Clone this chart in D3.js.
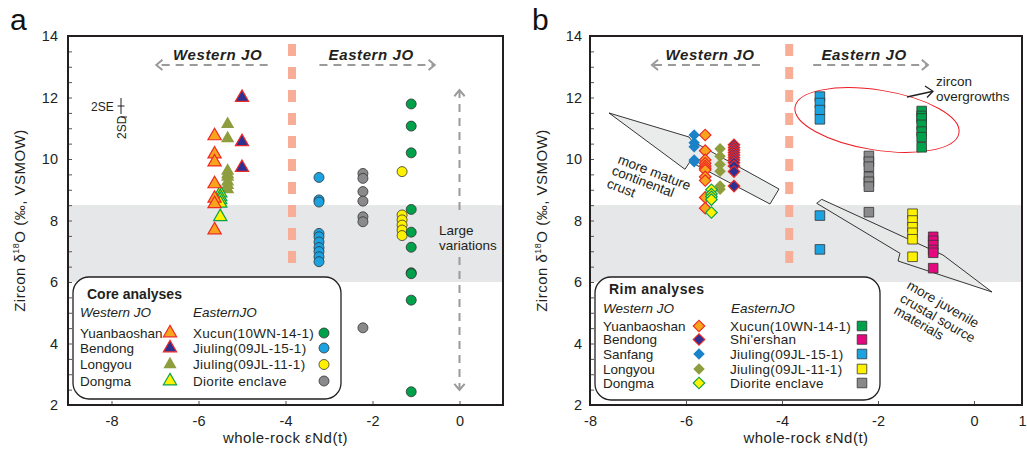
<!DOCTYPE html>
<html>
<head>
<meta charset="utf-8">
<script src="https://cdn.jsdelivr.net/npm/d3@7"></script>
<style>
  body { margin: 0; background: #fff; }
  svg { font-family: "Liberation Sans", Arial, sans-serif; }
</style>
</head>
<body>
<svg id="chart" width="1027" height="455"></svg>
<script>
// ---- data: x = whole-rock eNd(t) of the sample, values = zircon d18O ----
// panel a, core analyses
const coreYuanbaoshanNd = -5.63, coreYuanbaoshan = [10.75, 10.16, 9.9, 9.19, 8.72, 8.54, 7.69];
const coreBendongNd = -5.0, coreBendong = [12.0, 10.56, 9.72];
const coreLongyouNd = -5.33, coreLongyou = [11.13, 10.67, 9.61, 9.5, 9.42, 9.26, 9.15, 9.01];
const coreDongmaNd = -5.5, coreDongma = [8.89, 8.77, 8.67, 8.56, 8.12];
const coreXucunNd = -1.11, coreXucun = [11.79, 11.07, 10.2, 8.36, 7.62, 7.13, 6.3, 6.27, 5.41, 2.43];
const coreJiuling15Nd = -3.23, coreJiuling15 = [9.4, 8.67, 8.6, 7.58, 7.47, 7.3, 7.12, 6.99, 6.82, 6.66];
const coreJiuling11Nd = -1.32, coreJiuling11 = [9.59, 8.18, 8.02, 7.85, 7.69, 7.51];
const coreDioriteNd = -2.22, coreDiorite = [9.53, 9.37, 8.94, 8.63, 8.12, 7.96, 4.51];

// panel b, rim analyses
const rimSanfangNd = -5.83, rimSanfang = [10.78, 10.53, 10.4, 9.97, 9.91];
const rimYuanbaoshanNd = -5.6, rimYuanbaoshan = [10.78, 10.27, 9.97, 9.86, 9.77, 9.7, 9.64, 9.42, 9.3, 8.75, 8.4];
const rimLongyouNd = -5.29, rimLongyou = [10.33, 10.09, 9.82, 9.6, 9.12, 9.02];
const rimBendongNd = -5.0, rimBendong = [10.46, 10.37, 10.29, 10.21, 10.13, 10.05, 9.97, 9.88, 9.77, 9.59, 9.12];
const rimDongmaNd = -5.47, rimDongma = [9.0, 8.86, 8.77, 8.68, 8.26];
const rimXucunNd = -1.09, rimXucun = [11.56, 11.4, 11.32, 11.11, 10.89, 10.71, 10.38];
const rimShiershanNd = -0.85, rimShiershan = [7.47, 7.34, 7.2, 7.04, 6.95, 6.45];
const rimJiuling15Nd = -3.21, rimJiuling15 = [12.03, 11.82, 11.59, 11.29, 8.16, 7.06];
const rimJiuling11Nd = -1.28, rimJiuling11 = [8.22, 8.0, 7.78, 7.6, 7.39, 6.82];
const rimDioriteNd = -2.19, rimDiorite = [10.1, 9.91, 9.75, 9.42, 9.26, 9.1, 8.27];

// axes / guides
const yTicks = d3.range(2, 14.001, 0.5);
const xTicksA = [-8, -6, -4, -2, 0];
const xTicksB = [-8, -6, -4, -2, 0, 1];
const mantleBand = [6, 8.5];      // grey band of mantle-like d18O
const divideNd = -3.85;           // pink dashed divide between western / eastern JO

const westernNames = ["Yuanbaoshan", "Bendong", "Longyou", "Dongma"];
const easternNames = ["Xucun(10WN-14-1)", "Jiuling(09JL-15-1)", "Jiuling(09JL-11-1)", "Diorite enclave"];
const westernRimNames = ["Yuanbaoshan", "Bendong", "Sanfang", "Longyou", "Dongma"];
const easternRimNames = ["Xucun(10WN-14-1)", "Shi'ershan", "Jiuling(09JL-15-1)", "Jiuling(09JL-11-1)", "Diorite enclave"];

// colours
const cOrange = "#f8a51d", cRed = "#ee2a24", cNavy = "#2e3192", cOlive = "#8e9d3e",
      cYellow = "#fff200", cGreenEdge = "#0aa14b", cGreen = "#00a14b", cBlue = "#1ba3e1",
      cGrey = "#8a8a8c", cPink = "#e4097f", cSanfang = "#1a82c9", cDark = "#333";

const svg = d3.select("#chart");
svg.append("rect").attr("width", 1027).attr("height", 455).attr("fill", "#fff");

const y = d3.scaleLinear().domain([2, 14]).range([405, 36]);
const xA = d3.scaleLinear().domain([-9, 1]).range([68, 503]);
const xB = d3.scaleLinear().domain([-8, 1]).range([590, 1022]);

function sym(type, size) { return d3.symbol().type(type).size(size)(); }

function series(nd, vals, shape, fill, stroke, sw) {
  return { nd: nd, vals: vals, shape: shape, fill: fill, stroke: stroke, sw: sw };
}

const coreSeries = [
  series(coreLongyouNd, coreLongyou, "tri", cOlive, "none", 0),
  series(coreDongmaNd, coreDongma, "tri", cYellow, cGreenEdge, 1.2),
  series(coreYuanbaoshanNd, coreYuanbaoshan, "tri", cOrange, cRed, 1.2),
  series(coreBendongNd, coreBendong, "tri", cNavy, cRed, 1.2),
  series(coreJiuling15Nd, coreJiuling15, "circ", cBlue, cDark, 0.8),
  series(coreDioriteNd, coreDiorite, "circ", cGrey, cDark, 0.8),
  series(coreJiuling11Nd, coreJiuling11, "circ", cYellow, cDark, 0.8),
  series(coreXucunNd, coreXucun, "circ", cGreen, cDark, 0.8)
];
const rimSeries = [
  series(rimSanfangNd, rimSanfang, "dia", cSanfang, "none", 0),
  series(rimLongyouNd, rimLongyou, "dia", cOlive, "none", 0),
  series(rimYuanbaoshanNd, rimYuanbaoshan, "dia", cOrange, cRed, 1.2),
  series(rimDongmaNd, rimDongma, "dia", cYellow, cGreenEdge, 1.2),
  series(rimBendongNd, rimBendong, "dia", cNavy, cRed, 1.2),
  series(rimJiuling15Nd, rimJiuling15, "sq", cBlue, cDark, 0.8),
  series(rimDioriteNd, rimDiorite, "sq", cGrey, cDark, 0.8),
  series(rimJiuling11Nd, rimJiuling11, "sq", cYellow, cDark, 0.8),
  series(rimShiershanNd, rimShiershan, "sq", cPink, cDark, 0.8),
  series(rimXucunNd, rimXucun, "sq", cGreen, cDark, 0.8)
];

function drawMarker(g, s, px, py) {
  if (s.shape === "circ") {
    g.append("circle").attr("cx", px).attr("cy", py).attr("r", 5)
      .attr("fill", s.fill).attr("stroke", s.stroke).attr("stroke-width", s.sw);
  } else {
    var p = s.shape === "tri" ? sym(d3.symbolTriangle, 76)
          : s.shape === "sq" ? sym(d3.symbolSquare, 92)
          : sym(d3.symbolSquare, 66);
    g.append("path").attr("d", p)
      .attr("transform", "translate(" + px + "," + py + ")" + (s.shape === "dia" ? " rotate(45)" : ""))
      .attr("fill", s.fill).attr("stroke", s.stroke).attr("stroke-width", s.sw);
  }
}

function chevron(g, x0, y0, angle) {
  // open arrow head pointing in direction "angle" (deg) with tip at x0,y0
  var a = angle * Math.PI / 180, L = 8, w = 0.7;
  var p = "M" + (x0 - L * Math.cos(a - w)) + "," + (y0 - L * Math.sin(a - w)) +
          "L" + x0 + "," + y0 +
          "L" + (x0 - L * Math.cos(a + w)) + "," + (y0 - L * Math.sin(a + w));
  g.append("path").attr("d", p).attr("fill", "none").attr("stroke", "#9a9a9a").attr("stroke-width", 2);
}

function drawPanel(x, xTicks, letter) {
  var g = svg.append("g");
  var x0 = x.range()[0], x1 = x.range()[1];

  // grey band
  g.append("rect").attr("x", x0).attr("y", y(mantleBand[1]))
    .attr("width", x1 - x0).attr("height", y(mantleBand[0]) - y(mantleBand[1]))
    .attr("fill", "#e6e7e8");

  // divide
  g.append("line").attr("x1", x(divideNd)).attr("x2", x(divideNd))
    .attr("y1", y(13.74)).attr("y2", y(6.55))
    .attr("stroke", "#f8ad97").attr("stroke-width", 8).attr("stroke-dasharray", "12,11");

  // axes
  var ya = g.append("g").attr("transform", "translate(" + x0 + ",0)")
    .call(d3.axisLeft(y).tickValues(yTicks).tickSizeInner(-4).tickSizeOuter(0).tickPadding(letter === "a" ? 10 : 8)
      .tickFormat(function (d) { return d % 2 === 0 ? String(d) : ""; }));
  var xa = g.append("g").attr("transform", "translate(0,405)")
    .call(d3.axisBottom(x).tickValues(xTicks).tickSizeInner(-4).tickSizeOuter(0).tickPadding(11)
      .tickFormat(function (d) { return String(d); }));
  [ya, xa].forEach(function (ax) {
    ax.select(".domain").remove();
    ax.attr("font-family", null).attr("font-size", null);
    ax.selectAll(".tick line").attr("stroke", "#555");
    ax.selectAll("text").attr("font-size", 14.5).attr("fill", "#231f20");
  });

  g.append("rect").attr("x", x0).attr("y", 36).attr("width", x1 - x0).attr("height", 369)
    .attr("fill", "none").attr("stroke", "#231f20").attr("stroke-width", 2);

  // axis titles
  g.append("text").attr("x", (x0 + x1) / 2).attr("y", 443)
    .attr("text-anchor", "middle").attr("font-size", 15).attr("letter-spacing", 0.5).attr("fill", "#231f20")
    .text("whole-rock \u03b5Nd(t)");
  var yl = g.append("text").attr("transform", "translate(" + (x0 - 43) + "," + ((y(2) + y(14)) / 2) + ") rotate(-90)")
    .attr("text-anchor", "middle").attr("font-size", 15).attr("letter-spacing", 0.5).attr("fill", "#231f20");
  yl.append("tspan").text("Zircon \u03b4");
  yl.append("tspan").attr("font-size", 9).attr("dy", -6).text("18");
  yl.append("tspan").attr("dy", 6).text("O (\u2030, VSMOW)");

  svg.append("text").attr("x", x0 - 58).attr("y", 30).attr("font-size", 30).attr("fill", "#111").text(letter);

  // region labels with dashed arrows
  var ay = y(13.06);
  var isA = letter === "a";
  var wTo = isA ? -6.97 : -6.71, wFrom = isA ? -4.41 : -4.46;
  var eFrom = isA ? -3.22 : -3.35, eTo = isA ? -0.57 : -0.96;
  g.append("line").attr("x1", x(wFrom)).attr("x2", x(wTo)).attr("y1", ay).attr("y2", ay)
    .attr("stroke", "#9a9a9a").attr("stroke-width", 2).attr("stroke-dasharray", "8,6");
  chevron(g, x(wTo), ay, 180);
  g.append("line").attr("x1", x(eFrom)).attr("x2", x(eTo)).attr("y1", ay).attr("y2", ay)
    .attr("stroke", "#9a9a9a").attr("stroke-width", 2).attr("stroke-dasharray", "8,6");
  chevron(g, x(eTo), ay, 0);
  g.append("text").attr("x", x(isA ? -5.56 : -5.5)).attr("y", 59.5).attr("text-anchor", "middle")
    .attr("font-size", 15).attr("font-weight", "bold").attr("font-style", "italic")
    .attr("letter-spacing", 0.6).attr("fill", "#231f20").text("Western JO");
  g.append("text").attr("x", x(isA ? -2.03 : -2.29)).attr("y", 59.5).attr("text-anchor", "middle")
    .attr("font-size", 15).attr("font-weight", "bold").attr("font-style", "italic")
    .attr("letter-spacing", 0.6).attr("fill", "#231f20").text("Eastern JO");

  return g;
}

// ---------------- panel a ----------------
var ga = drawPanel(xA, xTicksA, "a");

// error bar
ga.append("text").attr("x", 91).attr("y", 110.5).attr("font-size", 12).attr("fill", "#231f20").text("2SE");
ga.append("line").attr("x1", 121).attr("x2", 121).attr("y1", 98).attr("y2", 114).attr("stroke", "#231f20");
ga.append("line").attr("x1", 117.5).attr("x2", 124.5).attr("y1", 106).attr("y2", 106).attr("stroke", "#231f20");
ga.append("line").attr("x1", 121).attr("x2", 127).attr("y1", 117).attr("y2", 117).attr("stroke", "#231f20");
ga.append("text").attr("transform", "translate(125.5,139) rotate(-90)").attr("font-size", 12)
  .attr("fill", "#231f20").text("2SD");

// large variations arrow
var vx = xA(0);
ga.append("line").attr("x1", vx).attr("x2", vx).attr("y1", y(12.24)).attr("y2", y(8.18))
  .attr("stroke", "#9a9a9a").attr("stroke-width", 2).attr("stroke-dasharray", "8,6");
ga.append("line").attr("x1", vx).attr("x2", vx).attr("y1", y(6.81)).attr("y2", y(2.49))
  .attr("stroke", "#9a9a9a").attr("stroke-width", 2).attr("stroke-dasharray", "8,6");
chevron(ga, vx, y(12.24), -90);
chevron(ga, vx, y(2.49), 90);
ga.append("text").attr("x", 439).attr("y", 235).attr("font-size", 13.5).attr("fill", "#231f20").text("Large");
ga.append("text").attr("x", 439).attr("y", 250).attr("font-size", 13.5).attr("fill", "#231f20").text("variations");

coreSeries.forEach(function (s) {
  s.vals.forEach(function (v) { drawMarker(ga, s, xA(s.nd), y(v)); });
});

// legend a
var la = svg.append("g");
la.append("rect").attr("x", 73).attr("y", 277).attr("width", 268).attr("height", 122).attr("rx", 16)
  .attr("fill", "#fff").attr("stroke", "#231f20").attr("stroke-width", 1.3);
la.append("text").attr("x", 87).attr("y", 299).attr("font-size", 14).attr("font-weight", "bold").text("Core analyses");
la.append("text").attr("x", 80).attr("y", 317).attr("font-size", 13.5).attr("font-style", "italic").text("Western JO");
la.append("text").attr("x", 193).attr("y", 317).attr("font-size", 13.5).attr("font-style", "italic").text("EasternJO");
var rowA = [333, 348, 364.5, 381];
var coreWestStyle = [coreSeries[2], coreSeries[3], coreSeries[0], coreSeries[1]];
var coreEastStyle = [coreSeries[7], coreSeries[4], coreSeries[6], coreSeries[5]];
westernNames.forEach(function (n, i) {
  la.append("text").attr("x", 80).attr("y", rowA[i] + 4.5).attr("font-size", 13.5).text(n);
  drawMarker(la, coreWestStyle[i], 170, rowA[i]);
});
easternNames.forEach(function (n, i) {
  la.append("text").attr("x", 193).attr("y", rowA[i] + 4.5).attr("font-size", 13.5).attr("letter-spacing", 0.3).text(n);
  drawMarker(la, coreEastStyle[i], 324, rowA[i]);
});
la.selectAll("text").attr("fill", "#231f20");

// ---------------- panel b ----------------
var gb = drawPanel(xB, xTicksB, "b");

// trend arrows (in data coordinates)
const matureArrow = [[-7.604, 11.496], [-5.9375, 10.715], [-5.875, 10.585], [-4.0625, 9.024],
                     [-4.25, 8.537], [-5.917, 9.912], [-6.021, 9.665]];
const juvenileArrow = [[-3.173, 8.689], [-0.646, 6.878], [0.375, 5.675], [-1.583, 6.683],
                       [-1.542, 6.933], [-3.277, 8.559]];
var poly = d3.line().x(function (d) { return xB(d[0]); }).y(function (d) { return y(d[1]); });
[matureArrow, juvenileArrow].forEach(function (a) {
  gb.append("path").attr("d", poly(a) + "Z").attr("fill", "#e6e7e8").attr("fill-opacity", 0.85)
    .attr("stroke", "#231f20").attr("stroke-width", 0.9);
});

function rotText(lines, pts, ang) {
  lines.forEach(function (t, i) {
    gb.append("text").attr("transform", "translate(" + pts[i][0] + "," + pts[i][1] + ") rotate(" + ang + ")")
      .attr("font-size", 13.5).attr("fill", "#231f20").text(t);
  });
}
rotText(["more mature", "continental", "crust"], [[617, 163], [611, 174], [606, 187]], 21);
rotText(["more juvenile", "crustal source", "materials"], [[906, 288], [899, 301], [893, 313]], 30);

// zircon overgrowth ellipse
gb.append("ellipse").attr("cx", 877).attr("cy", 120).attr("rx", 83).attr("ry", 30)
  .attr("transform", "rotate(9,877,120)").attr("fill", "none").attr("stroke", "#ed1c24").attr("stroke-width", 1);

rimSeries.forEach(function (s) {
  s.vals.forEach(function (v) { drawMarker(gb, s, xB(s.nd), y(v)); });
});

gb.append("line").attr("x1", 907).attr("y1", 97).attr("x2", 932).attr("y2", 91.5)
  .attr("stroke", "#231f20").attr("stroke-width", 1.3);
gb.append("path").attr("d", "M925,86L933,91.3L927,97.5").attr("fill", "none").attr("stroke", "#231f20").attr("stroke-width", 1.3);
gb.append("text").attr("x", 936).attr("y", 86).attr("font-size", 13.5).attr("fill", "#231f20").text("zircon");
gb.append("text").attr("x", 936).attr("y", 101).attr("font-size", 13.5).attr("fill", "#231f20").text("overgrowths");

// legend b
var lb = svg.append("g");
lb.append("rect").attr("x", 595).attr("y", 277).attr("width", 285).attr("height", 123).attr("rx", 16)
  .attr("fill", "#fff").attr("stroke", "#231f20").attr("stroke-width", 1.3);
lb.append("text").attr("x", 609).attr("y", 294).attr("font-size", 14).attr("font-weight", "bold")
  .attr("letter-spacing", 0.5).text("Rim analyses");
lb.append("text").attr("x", 603).attr("y", 312.5).attr("font-size", 13.5).attr("font-style", "italic").text("Western JO");
lb.append("text").attr("x", 731).attr("y", 312.5).attr("font-size", 13.5).attr("font-style", "italic").text("EasternJO");
var rowB = [326, 339.5, 354, 369, 383];
var rimWestStyle = [rimSeries[2], rimSeries[4], rimSeries[0], rimSeries[1], rimSeries[3]];
var rimEastStyle = [rimSeries[9], rimSeries[8], rimSeries[5], rimSeries[7], rimSeries[6]];
westernRimNames.forEach(function (n, i) {
  lb.append("text").attr("x", 603).attr("y", rowB[i] + 4.5).attr("font-size", 13.5).text(n);
  drawMarker(lb, rimWestStyle[i], 699, rowB[i]);
});
easternRimNames.forEach(function (n, i) {
  lb.append("text").attr("x", 730).attr("y", rowB[i] + 4.5).attr("font-size", 13.5).attr("letter-spacing", 0.3).text(n);
  drawMarker(lb, rimEastStyle[i], 862, rowB[i]);
});
lb.selectAll("text").attr("fill", "#231f20");
</script>
</body>
</html>
